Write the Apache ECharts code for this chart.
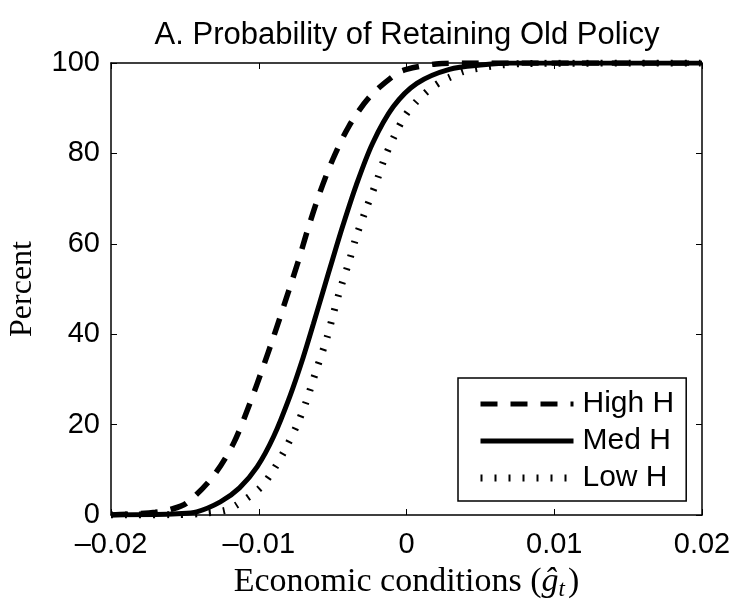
<!DOCTYPE html>
<html>
<head>
<meta charset="utf-8">
<script src="https://cdn.jsdelivr.net/npm/echarts@6/dist/echarts.min.js"></script>
<style>
  html, body { margin: 0; padding: 0; background: #fff; }
  #chart { width: 737px; height: 600px; }
</style>
</head>
<body>
<div id="chart"></div>
<script>
// Probability (%) of retaining the old policy against economic conditions
const highX = [-0.0200, -0.0185, -0.0170, -0.0160, -0.0149, -0.0131, -0.0117, -0.0106, -0.0097, -0.0090, -0.0081, -0.0073, -0.0067, -0.0059, -0.0050, -0.0039, -0.0025, -0.0007, 0.0000, 0.0020, 0.0040, 0.0200];
const highY = [0.0, 0.2, 0.6, 1.2, 2.6, 8.5, 15.9, 24.7, 32.8, 39.4, 48.3, 56.4, 63.0, 71.0, 78.6, 86.0, 92.5, 97.6, 98.6, 99.8, 100, 100];

const medX = [-0.0200, -0.0170, -0.0155, -0.0142, -0.0126, -0.0113, -0.0101, -0.0090, -0.0079, -0.0070, -0.0063, -0.0056, -0.0050, -0.0043, -0.0034, -0.0023, -0.0009, 0.0007, 0.0029, 0.0052, 0.0070, 0.0200];
const medY = [0, 0.1, 0.3, 0.7, 2.9, 6.0, 10.7, 17.3, 26.2, 34.8, 42.3, 50.0, 56.6, 64.1, 73.0, 82.2, 90.3, 95.5, 98.6, 99.6, 100, 100];

const lowX = [-0.0200, -0.0160, -0.0140, -0.0123, -0.0115, -0.0099, -0.0090, -0.0082, -0.0074, -0.0068, -0.0061, -0.0054, -0.0050, -0.0045, -0.0039, -0.0034, -0.0027, -0.0020, -0.0015, -0.0008, -0.0001, 0.0007, 0.0015, 0.0023, 0.0029, 0.0038, 0.0048, 0.0057, 0.0065, 0.0080, 0.0200];
const lowY = [0, 0.05, 0.3, 1.0, 2.2, 6.0, 10.0, 14.6, 20.0, 25.0, 32.1, 39.0, 43.9, 49.8, 55.9, 61.6, 68.0, 74.0, 78.8, 84.0, 88.3, 91.6, 94.0, 95.8, 96.8, 98.1, 98.8, 99.3, 99.6, 99.9, 100];

const seriesNames = ['High H', 'Med H', 'Low H'];
const xTickLabels = ['\u20130.02', '\u20130.01', '0', '0.01', '0.02'];
const yTickLabels = ['0', '20', '40', '60', '80', '100'];

const sans = 'Liberation Sans, Arial, Helvetica, sans-serif';
const serif = 'Liberation Serif, Times New Roman, serif';

const dashHigh = [17, 13];
const dashLow = [2, 12];

const zip = (xs, ys) => xs.map((x, i) => [x, ys[i]]);

const chart = echarts.init(document.getElementById('chart'), null, { renderer: 'canvas' });

const baseX = {
  type: 'value', min: -0.02, max: 0.02, interval: 0.01,
  axisLine: { show: true, onZero: false, lineStyle: { color: '#000', width: 1.5 } },
  axisTick: { show: true, inside: true, length: 6, lineStyle: { color: '#000', width: 1 } },
  splitLine: { show: false }
};
const baseY = {
  type: 'value', min: 0, max: 100, interval: 20,
  axisLine: { show: true, onZero: false, lineStyle: { color: '#000', width: 1.5 } },
  axisTick: { show: true, inside: true, length: 6, lineStyle: { color: '#000', width: 1 } },
  splitLine: { show: false }
};

chart.setOption({
  animation: false,
  backgroundColor: '#fff',
  title: {
    text: 'A. Probability of Retaining Old Policy',
    left: 402, top: 15, textAlign: 'center',
    textStyle: { fontFamily: sans, fontSize: 31, fontWeight: 'normal', color: '#000' }
  },
  grid: { left: 111, right: 35, top: 63, bottom: 85, containLabel: false, outerBoundsMode: 'none' },
  legend: {
    orient: 'vertical',
    left: 458, top: 378,
    padding: [11, 12, 8, 19],
    itemGap: 7,
    itemWidth: 93, itemHeight: 14,
    borderColor: '#000', borderWidth: 1.5,
    backgroundColor: '#fff',
    data: [
      { name: seriesNames[0], itemStyle: { opacity: 0 }, lineStyle: { width: 5, type: dashHigh, cap: 'butt', color: '#000' } },
      { name: seriesNames[1], itemStyle: { opacity: 0 }, lineStyle: { width: 5, type: 'solid', color: '#000' } },
      { name: seriesNames[2], itemStyle: { opacity: 0 }, lineStyle: { width: 7, type: dashLow, cap: 'butt', color: '#000' } }
    ],
    textStyle: { fontFamily: sans, fontSize: 30, color: '#000', padding: [0, 0, 0, 4] }
  },
  xAxis: [
    Object.assign({}, baseX, {
      position: 'bottom',
      name: '{n|Economic conditions (}{v|\u011d}{s|t}{n|)}',
      nameLocation: 'middle', nameGap: 48,
      nameTextStyle: {
        rich: {
          n: { fontFamily: serif, fontSize: 34, color: '#000' },
          v: { fontFamily: serif, fontSize: 34, fontStyle: 'italic', color: '#000' },
          s: { fontFamily: serif, fontSize: 23, fontStyle: 'italic', color: '#000', padding: [15, 3, 0, 0] }
        }
      },
      axisLabel: {
        margin: 15, color: '#000', fontFamily: sans, fontSize: 29,
        formatter: v => xTickLabels[Math.round((v + 0.02) / 0.01)]
      }
    }),
    Object.assign({}, baseX, { position: 'top', axisLabel: { show: false } })
  ],
  yAxis: [
    Object.assign({}, baseY, {
      position: 'left',
      name: 'Percent',
      nameLocation: 'middle', nameGap: 72,
      nameTextStyle: { fontFamily: serif, fontSize: 32, color: '#000' },
      axisLabel: {
        margin: 11, color: '#000', fontFamily: sans, fontSize: 29,
        formatter: v => yTickLabels[Math.round(v / 20)]
      }
    }),
    Object.assign({}, baseY, { position: 'right', axisLabel: { show: false } })
  ],
  series: [
    {
      name: seriesNames[0], type: 'line', data: zip(highX, highY),
      showSymbol: false, symbol: 'none', smooth: 0.3,
      lineStyle: { color: '#000', width: 5.5, type: dashHigh, cap: 'butt' },
      itemStyle: { color: '#000' }
    },
    {
      name: seriesNames[1], type: 'line', data: zip(medX, medY),
      showSymbol: false, symbol: 'none', smooth: 0.3,
      lineStyle: { color: '#000', width: 5, type: 'solid' },
      itemStyle: { color: '#000' }
    },
    {
      name: seriesNames[2], type: 'line', data: zip(lowX, lowY),
      showSymbol: false, symbol: 'none', smooth: 0.3,
      lineStyle: { color: '#000', width: 7, type: dashLow, cap: 'butt' },
      itemStyle: { color: '#000' }
    }
  ]
});
</script>
</body>
</html>
